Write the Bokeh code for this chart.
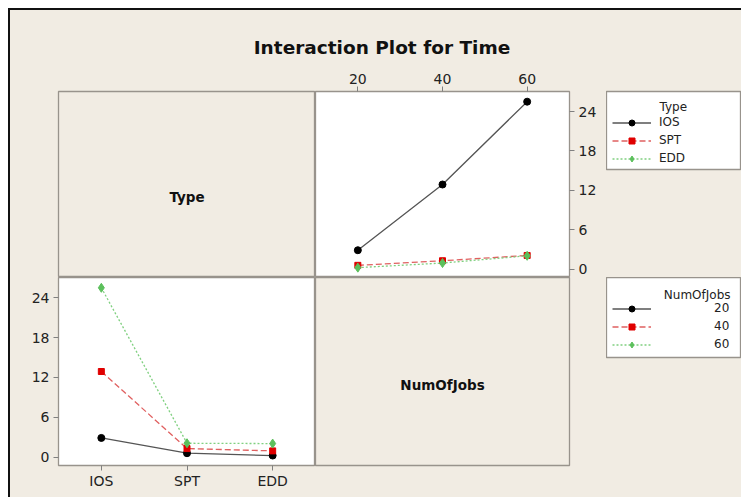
from bokeh.plotting import figure
from bokeh.layouts import row, column
from bokeh.models import Range1d, FactorRange, FixedTicker, Label, Legend, LegendItem
from bokeh.embed import file_html
from bokeh.resources import INLINE

# ---- data ----
types = ["IOS", "SPT", "EDD"]
num_jobs = [20, 40, 60]
time_ios = [2.9, 12.9, 25.5]    # Time for IOS at 20, 40, 60 jobs
time_spt = [0.6, 1.3, 2.1]
time_edd = [0.25, 0.95, 2.05]
y_ticks = [0, 6, 12, 18, 24]
title_text = "Interaction Plot for Time"
type_title = "Type"
jobs_title = "NumOfJobs"

time_by_type = [time_ios, time_spt, time_edd]

# ---- styling ----
BG = "#f1ece3"
EDGE = "#98938c"
FONT = "DejaVu Sans"
series_style = [
    dict(line_color="#555555", line_dash="solid", marker="circle", fill="#000000", size=7),
    dict(line_color="#e06060", line_dash="6 3", marker="square", fill="#e00000", size=6),
    dict(line_color="#80d080", line_dash="2 2", marker="diamond", fill="#5cc05c", size=9),
]


def base_fig(**kw):
    kw.setdefault("toolbar_location", None)
    kw.setdefault("output_backend", "svg")
    kw.setdefault("title", None)
    kw.setdefault("border_fill_color", BG)
    kw.setdefault("frame_align", False)
    p = figure(**kw)
    for g in p.grid:
        g.visible = False
    return p


def style_axis(ax, standoff=3):
    ax.axis_line_color = None
    ax.major_tick_line_color = "#808080"
    ax.major_tick_out = 5
    ax.major_tick_in = 0
    ax.minor_tick_line_color = None
    ax.major_label_text_font = FONT
    ax.major_label_text_font_size = "14px"
    ax.major_label_text_color = "#222222"
    ax.major_label_standoff = standoff


def add_series(p, xs, ys, st, **extra):
    lr = p.line(xs, ys, line_color=st["line_color"], line_dash=st["line_dash"], line_width=1.3, **extra)
    sr = p.scatter(xs, ys, marker=st["marker"], size=st["size"], fill_color=st["fill"],
                   line_color=st["fill"], **extra)
    return lr, sr


Y_RANGE = (-1.25, 27.05)
OW = 1.3

# ---- header with title ----
header = base_fig(width=731, height=50, x_range=Range1d(0, 731), y_range=Range1d(0, 50),
                  x_axis_location=None, y_axis_location=None,
                  min_border_left=0, min_border_right=0, min_border_top=0, min_border_bottom=0,
                  background_fill_color=BG, outline_line_color=None)
header.add_layout(Label(x=371.5, y=13.3, text=title_text, text_font=FONT, text_font_style="bold",
                        text_font_size="18.5px", text_align="center", text_baseline="alphabetic",
                        text_color="#111111"))

# ---- top-left: factor name panel ----
tl = base_fig(width=305, height=217, x_range=Range1d(0, 1), y_range=Range1d(0, 1),
              x_axis_location=None, y_axis_location=None,
              min_border_left=48, min_border_right=0, min_border_top=31, min_border_bottom=0,
              background_fill_color=BG, outline_line_color=EDGE, outline_line_width=OW)
tl.add_layout(Label(x=0.5, y=0.433, text=type_title, text_font=FONT, text_font_style="bold",
                    text_font_size="13.5px", text_align="center", text_baseline="alphabetic",
                    text_color="#111111"))

# ---- top-right: Time vs NumOfJobs, one line per Type ----
tr = base_fig(width=291, height=217, x_range=Range1d(10, 70), y_range=Range1d(*Y_RANGE),
              x_axis_location="above", y_axis_location="right",
              min_border_left=0, min_border_right=37, min_border_top=31, min_border_bottom=0,
              background_fill_color="white", outline_line_color=EDGE, outline_line_width=OW)
tr.xaxis.ticker = FixedTicker(ticks=num_jobs)
tr.yaxis.ticker = FixedTicker(ticks=y_ticks)
style_axis(tr.xaxis[0], 3)
style_axis(tr.yaxis[0], 4)
for i, t in enumerate(types):
    add_series(tr, num_jobs, time_by_type[i], series_style[i])

# ---- legend for Type (hidden copies of the series feed the legend glyphs) ----
l1 = base_fig(width=135, height=217, x_range=Range1d(0, 135), y_range=Range1d(0, 78),
              x_axis_location=None, y_axis_location=None,
              min_border_left=0, min_border_right=0, min_border_top=31, min_border_bottom=108,
              background_fill_color="white", outline_line_color=EDGE, outline_line_width=OW)
items1 = []
for i, t in enumerate(types):
    lr, sr = add_series(l1, num_jobs, time_by_type[i], series_style[i])
    lr.visible = False
    sr.visible = False
    items1.append(LegendItem(label=t, renderers=[lr, sr]))
l1.add_layout(Legend(items=items1, location=(6, 2), padding=0, spacing=0, margin=0,
                     glyph_width=39, glyph_height=15, label_height=18, label_standoff=8,
                     border_line_color=None, background_fill_alpha=0,
                     label_text_font=FONT, label_text_font_size="12px", label_text_color="#222222"))
l1.add_layout(Label(x=53, y=63, text=type_title, text_font=FONT, text_font_size="12px",
                    text_align="left", text_baseline="alphabetic", text_color="#222222"))

# ---- bottom-left: Time vs Type, one line per NumOfJobs ----
bl = base_fig(width=305, height=220, x_range=FactorRange(factors=types), y_range=Range1d(*Y_RANGE),
              x_axis_location="below", y_axis_location="left",
              min_border_left=48, min_border_right=0, min_border_top=0, min_border_bottom=32,
              background_fill_color="white", outline_line_color=EDGE, outline_line_width=OW)
bl.yaxis.ticker = FixedTicker(ticks=y_ticks)
style_axis(bl.xaxis[0], 2)
style_axis(bl.yaxis[0], 4)
bl_series = []
for j, n in enumerate(num_jobs):
    vals = [time_by_type[i][j] for i in range(len(types))]
    bl_series.append(vals)
    add_series(bl, types, vals, series_style[j])

# ---- bottom-right: factor name panel ----
br = base_fig(width=291, height=220, x_range=Range1d(0, 1), y_range=Range1d(0, 1),
              x_axis_location=None, y_axis_location=None,
              min_border_left=0, min_border_right=37, min_border_top=0, min_border_bottom=32,
              background_fill_color=BG, outline_line_color=EDGE, outline_line_width=OW)
br.add_layout(Label(x=0.5, y=0.43, text=jobs_title, text_font=FONT, text_font_style="bold",
                    text_font_size="13.5px", text_align="center", text_baseline="alphabetic",
                    text_color="#111111"))

# ---- legend for NumOfJobs ----
l2 = base_fig(width=135, height=220, x_range=Range1d(0, 135), y_range=Range1d(0, 80),
              x_axis_location=None, y_axis_location=None,
              min_border_left=0, min_border_right=0, min_border_top=0, min_border_bottom=140,
              background_fill_color="white", outline_line_color=EDGE, outline_line_width=OW)
items2 = []
for j, n in enumerate(num_jobs):
    lr, sr = add_series(l2, [1, 2, 3], bl_series[j], series_style[j])
    lr.visible = False
    sr.visible = False
    items2.append(LegendItem(label=str(n), renderers=[lr, sr]))
l2.add_layout(Legend(items=items2, location=(6, 4), padding=0, spacing=0, margin=0,
                     glyph_width=39, glyph_height=15, label_height=18, label_standoff=63,
                     border_line_color=None, background_fill_alpha=0,
                     label_text_font=FONT, label_text_font_size="12px", label_text_color="#222222"))
l2.add_layout(Label(x=124, y=63, text=jobs_title, text_font=FONT, text_font_size="12px",
                    text_align="right", text_baseline="alphabetic", text_color="#222222"))

root = column(header, row(tl, tr, l1), row(bl, br, l2),
              styles={"border-left": "2px solid #111111", "border-top": "2px solid #111111",
                      "background-color": BG, "margin-left": "8px", "margin-top": "8px"})

open("out.html", "w").write(file_html(root, INLINE))
